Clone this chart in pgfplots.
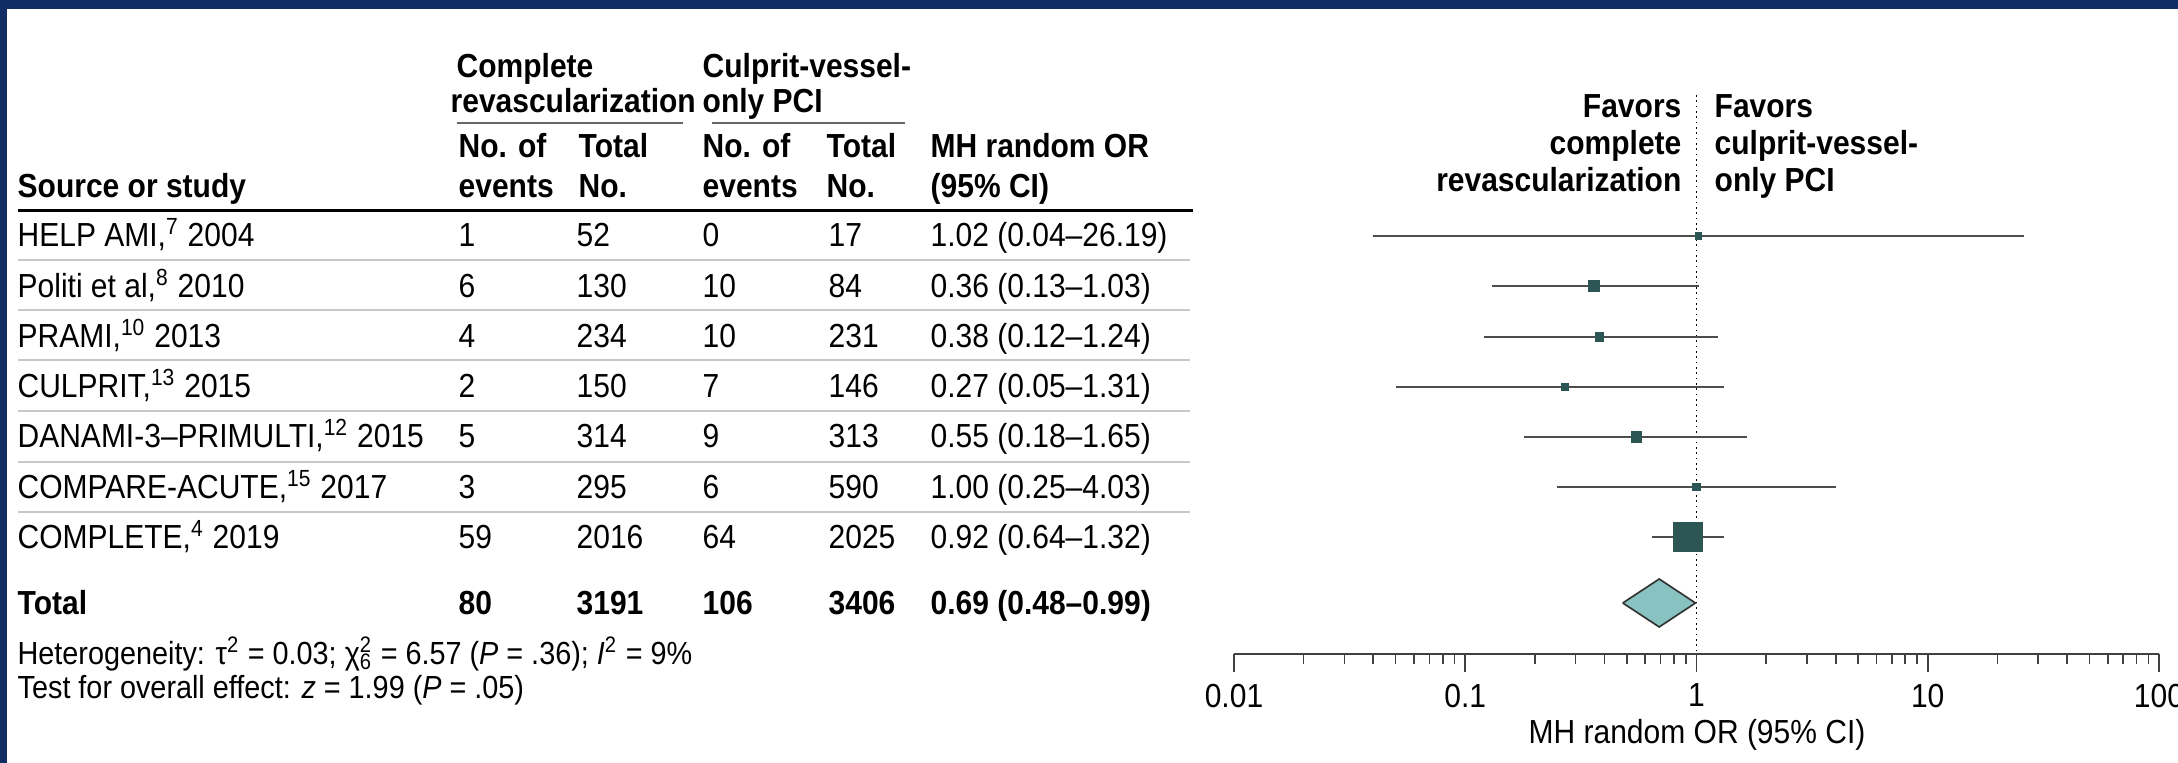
\documentclass[border=0pt]{standalone}
\usepackage{fontspec}
\setmainfont{Liberation Sans}[FakeStretch=0.9]
\usepackage{pgfplots}
\pgfplotsset{compat=1.18}
\definecolor{navy}{HTML}{102E64}
\definecolor{sq}{HTML}{2B5654}
\definecolor{dia}{HTML}{88C3C1}
\definecolor{ci}{HTML}{4D4D4D}
\begin{document}
\begin{tikzpicture}[font=\fontsize{10}{12}\selectfont]
\useasboundingbox (0pt,0pt) rectangle (653.4pt,-228.9pt);
\begin{scope}[x=0.3pt,y=-0.3pt]
\fill[white] (0,0) rectangle (2178,763);
\fill[navy] (0,0) rectangle (2178,9);
\fill[navy] (0,0) rectangle (7,763);
% header
\begin{scope}[every node/.style={anchor=base west,inner sep=0pt}]
\node[font=\fontsize{10}{12}\selectfont\bfseries] at (456,78) {Complete};
\node[font=\fontsize{10}{12}\selectfont\bfseries] at (450,113) {revascularization};
\node[font=\fontsize{10}{12}\selectfont\bfseries] at (702,78) {Culprit-vessel-};
\node[font=\fontsize{10}{12}\selectfont\bfseries] at (702,113) {only PCI};
\node[font=\fontsize{10}{12}\selectfont\bfseries] at (458,158) {No. of};
\node[font=\fontsize{10}{12}\selectfont\bfseries] at (458,198) {events};
\node[font=\fontsize{10}{12}\selectfont\bfseries] at (578,158) {Total};
\node[font=\fontsize{10}{12}\selectfont\bfseries] at (578,198) {No.};
\node[font=\fontsize{10}{12}\selectfont\bfseries] at (702,158) {No. of};
\node[font=\fontsize{10}{12}\selectfont\bfseries] at (702,198) {events};
\node[font=\fontsize{10}{12}\selectfont\bfseries] at (826,158) {Total};
\node[font=\fontsize{10}{12}\selectfont\bfseries] at (826,198) {No.};
\node[font=\fontsize{10}{12}\selectfont\bfseries] at (930,158) {MH random OR};
\node[font=\fontsize{10}{12}\selectfont\bfseries] at (930,198) {(95\% CI)};
\node[font=\fontsize{10}{12}\selectfont\bfseries] at (17,198) {Source or study};
% rows
\node at (17,247) {HELP AMI,\textsuperscript{7} 2004};
\node at (17,298) {Politi et al,\textsuperscript{8} 2010};
\node at (17,348) {PRAMI,\textsuperscript{10} 2013};
\node at (17,398) {CULPRIT,\textsuperscript{13} 2015};
\node at (17,448) {DANAMI-3–PRIMULTI,\textsuperscript{12} 2015};
\node at (17,499) {COMPARE-ACUTE,\textsuperscript{15} 2017};
\node at (17,549) {COMPLETE,\textsuperscript{4} 2019};
\foreach \y/\a/\b/\c/\d/\e in {
 247/1/52/0/17/{1.02 (0.04–26.19)},
 298/6/130/10/84/{0.36 (0.13–1.03)},
 348/4/234/10/231/{0.38 (0.12–1.24)},
 398/2/150/7/146/{0.27 (0.05–1.31)},
 448/5/314/9/313/{0.55 (0.18–1.65)},
 499/3/295/6/590/{1.00 (0.25–4.03)},
 549/59/2016/64/2025/{0.92 (0.64–1.32)}}{
 \node at (458,\y) {\a};
 \node at (576,\y) {\b};
 \node at (702,\y) {\c};
 \node at (828,\y) {\d};
 \node at (930,\y) {\e};
}
\begin{scope}[font=\fontsize{10}{12}\selectfont\bfseries]
\node at (17,615) {Total};
\node at (458,615) {80};
\node at (576,615) {3191};
\node at (702,615) {106};
\node at (828,615) {3406};
\node at (930,615) {0.69 (0.48–0.99)};
\end{scope}
\node[font=\fontsize{9.6}{11}\selectfont] at (17,665) {Heterogeneity: τ\textsuperscript{2} = 0.03; χ\rlap{\textsuperscript{2}}\textsubscript{6} = 6.57 (\textit{P} = .36); \textit{I}\textsuperscript{2} = 9\%};
\node[font=\fontsize{9.6}{11}\selectfont] at (17,699) {Test for overall effect: \textit{z} = 1.99 (\textit{P} = .05)};
\end{scope}
% favors
\begin{scope}[every node/.style={inner sep=0pt},font=\fontsize{10}{12}\selectfont\bfseries]
\node[anchor=base east] at (1682,118) {Favors};
\node[anchor=base east] at (1682,155) {complete};
\node[anchor=base east] at (1682,192) {revascularization};
\node[anchor=base west] at (1714,118) {Favors};
\node[anchor=base west] at (1714,155) {culprit-vessel-};
\node[anchor=base west] at (1714,192) {only PCI};
\end{scope}
% rules
\draw[line width=0.9pt] (18,211) -- (1193,211);
\draw[line width=0.5pt,black!60] (457,123) -- (683,123);
\draw[line width=0.5pt,black!60] (712,123) -- (905,123);
\foreach \y in {260,310,360,411,462,512}{
 \draw[line width=0.6pt,black!22] (18,\y) -- (1190,\y);
}
\node[font=\fontsize{10}{12}\selectfont] at (1697,735) {MH random OR (95\% CI)};
\end{scope}
\begin{axis}[at={(370.2pt,-196.2pt)},anchor=south west,scale only axis,
 width=277.5pt,height=172.2pt,
 xmode=log,xmin=0.01,xmax=100,ymin=-654,ymax=-80,
 hide y axis,axis x line*=bottom,clip=false,
 xtick={0.01,0.1,1,10,100},xticklabels={0.01,0.1,1,10,100},
 minor xtick={0.02,0.03,0.04,0.05,0.06,0.07,0.08,0.09,0.2,0.3,0.4,0.5,0.6,0.7,0.8,0.9,2,3,4,5,6,7,8,9,20,30,40,50,60,70,80,90},
 tick align=outside,major tick length=5.4pt,minor tick length=3pt,
 tick style={black!75,line width=0.5pt},
 axis line style={black!75,line width=0.6pt},
 /pgf/number format/assume math mode=true,
 xticklabel style={font=\fontsize{10}{12}\selectfont},
]
\addplot[black,line width=0.5pt,dash pattern=on 0.5pt off 1.1pt] coordinates {(1,-95) (1,-654)};
% CIs
\addplot[ci,line width=0.75pt] coordinates {(0.04,-236) (26.19,-236)};
\addplot[ci,line width=0.75pt] coordinates {(0.13,-286) (1.03,-286)};
\addplot[ci,line width=0.75pt] coordinates {(0.12,-337) (1.24,-337)};
\addplot[ci,line width=0.75pt] coordinates {(0.05,-387) (1.31,-387)};
\addplot[ci,line width=0.75pt] coordinates {(0.18,-437) (1.65,-437)};
\addplot[ci,line width=0.75pt] coordinates {(0.25,-487) (4.03,-487)};
\addplot[ci,line width=0.75pt] coordinates {(0.64,-537) (1.32,-537)};
% squares
\addplot[only marks,mark=square*,mark size=0.9pt,sq] coordinates {(1.02,-236)};
\addplot[only marks,mark=square*,mark size=1.65pt,sq] coordinates {(0.36,-286)};
\addplot[only marks,mark=square*,mark size=1.2pt,sq] coordinates {(0.38,-337)};
\addplot[only marks,mark=square*,mark size=1.1pt,sq] coordinates {(0.27,-387)};
\addplot[only marks,mark=square*,mark size=1.5pt,sq] coordinates {(0.55,-437)};
\addplot[only marks,mark=square*,mark size=1.05pt,sq] coordinates {(1.00,-487)};
\addplot[only marks,mark=square*,mark size=4.2pt,sq] coordinates {(0.92,-537)};
% diamond
\addplot[fill=dia,draw=black!80,line width=0.5pt] coordinates {(0.48,-603) (0.69,-579) (0.99,-603) (0.69,-627) (0.48,-603)};
\end{axis}
\end{tikzpicture}
\end{document}
